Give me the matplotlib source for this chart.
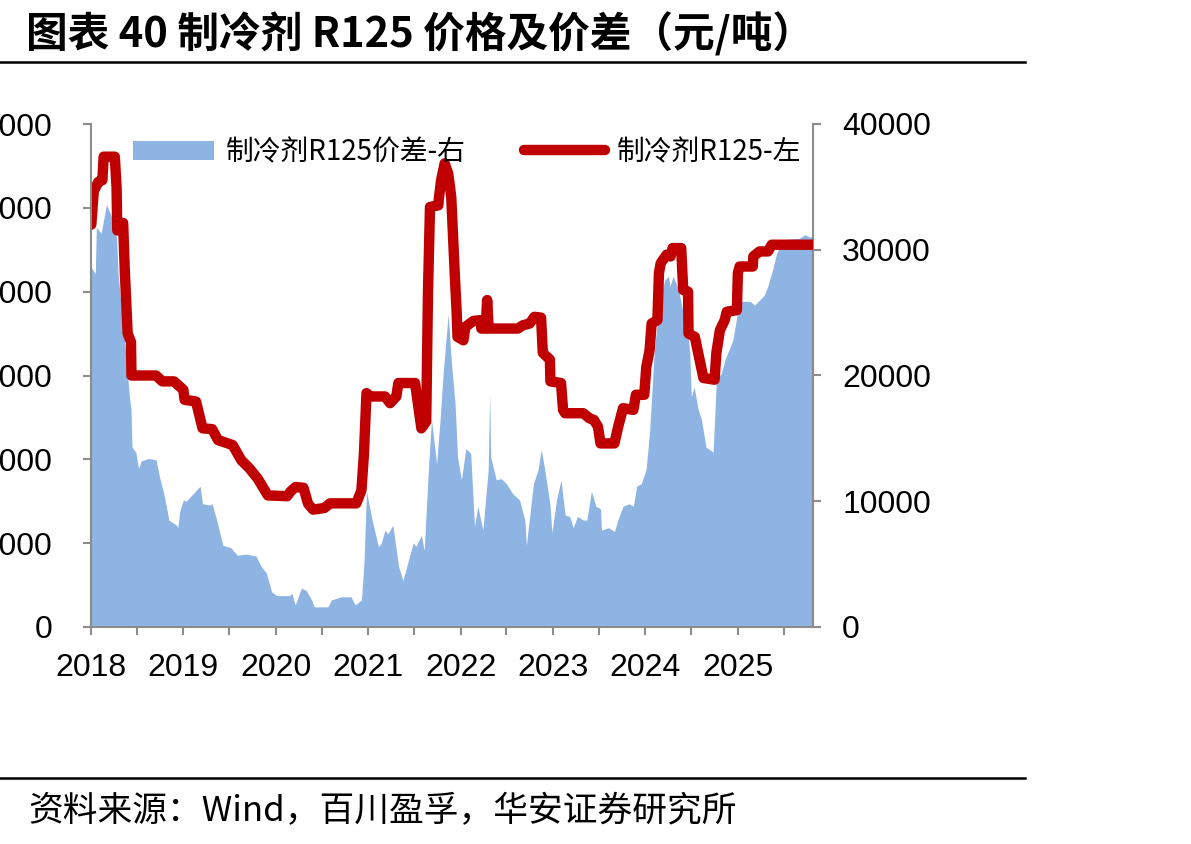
import matplotlib
matplotlib.use("Agg")
import matplotlib.pyplot as plt
import pandas as pd
from matplotlib.patches import Patch
from matplotlib.lines import Line2D

# ---------------- data ----------------
price_dates = ["2018-01-02", "2018-01-12", "2018-01-30", "2018-02-15", "2018-02-20", "2018-04-05",
               "2018-04-12", "2018-04-15", "2018-05-08", "2018-05-15", "2018-05-26", "2018-06-08",
               "2018-06-10", "2018-09-15", "2018-10-10", "2018-11-25", "2019-01-01", "2019-01-06",
               "2019-02-20", "2019-03-18", "2019-04-25", "2019-05-18", "2019-07-15", "2019-08-18",
               "2019-09-20", "2019-10-22", "2019-12-01", "2020-02-15", "2020-03-01", "2020-03-20",
               "2020-04-20", "2020-05-08", "2020-05-28", "2020-07-12", "2020-08-03", "2020-11-15",
               "2020-12-05", "2020-12-15", "2020-12-25", "2021-01-08", "2021-03-08", "2021-03-28",
               "2021-04-22", "2021-04-30", "2021-07-05", "2021-07-16", "2021-07-30", "2021-08-18",
               "2021-08-25", "2021-09-02", "2021-10-05", "2021-10-07", "2021-10-16", "2021-10-30",
               "2021-11-13", "2021-11-25", "2021-12-10", "2021-12-16", "2021-12-20", "2022-01-12",
               "2022-01-20", "2022-02-20", "2022-03-20", "2022-03-24", "2022-04-10", "2022-04-16",
               "2022-04-22", "2022-08-15", "2022-09-05", "2022-10-01", "2022-10-20", "2022-11-15",
               "2022-11-22", "2022-12-20", "2022-12-22", "2023-02-02", "2023-02-10", "2023-02-18",
               "2023-05-01", "2023-05-25", "2023-06-12", "2023-06-28", "2023-07-08", "2023-09-01",
               "2023-09-16", "2023-10-05", "2023-11-15", "2023-11-25", "2023-12-28", "2024-01-05",
               "2024-01-18", "2024-01-26", "2024-02-18", "2024-02-24", "2024-03-02", "2024-03-25",
               "2024-04-10", "2024-04-18", "2024-05-22", "2024-05-30", "2024-06-18", "2024-06-20",
               "2024-07-15", "2024-07-28", "2024-08-18", "2024-10-01", "2024-10-08", "2024-10-22",
               "2024-11-10", "2024-11-18", "2024-12-28", "2025-01-01", "2025-01-08", "2025-03-01",
               "2025-03-03", "2025-03-28", "2025-04-30", "2025-05-15", "2025-10-25"]
price_values = [48000, 52000, 53100, 53300, 56100, 56100,
                52500, 47300, 48200, 42200, 35000, 34000,
                30000, 30000, 29300, 29300, 28300, 27100,
                26900, 23700, 23600, 22300, 21700, 19900,
                18900, 17700, 15700, 15600, 16200, 16700,
                16600, 14700, 14000, 14200, 14750, 14750,
                16300, 20700, 27900, 27500, 27500, 26700,
                27500, 29100, 29100, 26700, 23700, 24500,
                39800, 50100, 50300, 51100, 53300, 55300,
                54100, 51300, 41400, 37800, 34600, 34200,
                35800, 36500, 36600, 35600, 35600, 39000,
                35600, 35600, 36000, 36200, 37000, 36900,
                32700, 31900, 29300, 29100, 25900, 25500,
                25500, 24900, 24700, 23900, 21900, 21900,
                23900, 26100, 25900, 27700, 27700, 31000,
                33000, 36200, 36600, 42200, 43400, 44400,
                44200, 45200, 45200, 40200, 40000, 35000,
                34600, 32700, 29700, 29500, 32700, 35400,
                36600, 37600, 37800, 42200, 43000, 43000,
                44200, 44800, 44800, 45600, 45600]

spread_dates = ["2018-01-02", "2018-01-18", "2018-01-22", "2018-02-10", "2018-03-03", "2018-03-20",
                "2018-04-12", "2018-04-18", "2018-04-30", "2018-05-18", "2018-06-02", "2018-06-08",
                "2018-06-12", "2018-06-27", "2018-07-08", "2018-07-18", "2018-08-15", "2018-09-15",
                "2018-09-28", "2018-10-18", "2018-11-05", "2018-12-05", "2018-12-10", "2018-12-18",
                "2019-01-01", "2019-01-12", "2019-02-18", "2019-03-08", "2019-03-18", "2019-04-15",
                "2019-04-25", "2019-05-18", "2019-06-06", "2019-07-08", "2019-08-03", "2019-09-05",
                "2019-10-15", "2019-11-05", "2019-11-25", "2019-12-16", "2020-01-05", "2020-02-25",
                "2020-03-05", "2020-03-18", "2020-04-12", "2020-05-01", "2020-05-22", "2020-06-02",
                "2020-07-25", "2020-08-08", "2020-09-15", "2020-10-25", "2020-11-10", "2020-12-05",
                "2020-12-15", "2020-12-25", "2021-01-15", "2021-02-10", "2021-02-20", "2021-03-08",
                "2021-03-20", "2021-04-08", "2021-05-01", "2021-05-18", "2021-06-06", "2021-06-28",
                "2021-07-08", "2021-07-30", "2021-08-10", "2021-08-28", "2021-09-08", "2021-09-28",
                "2021-10-12", "2021-10-24", "2021-11-13", "2021-11-25", "2021-12-10", "2021-12-20",
                "2022-01-04", "2022-01-22", "2022-02-10", "2022-02-25", "2022-03-10", "2022-03-30",
                "2022-04-20", "2022-04-26", "2022-04-30", "2022-05-22", "2022-06-10", "2022-07-01",
                "2022-07-26", "2022-08-22", "2022-09-12", "2022-09-18", "2022-10-01", "2022-10-16",
                "2022-11-03", "2022-11-16", "2022-11-28", "2022-12-20", "2022-12-28", "2023-01-15",
                "2023-02-02", "2023-02-18", "2023-03-08", "2023-03-22", "2023-04-08", "2023-05-01",
                "2023-05-15", "2023-06-02", "2023-06-20", "2023-07-08", "2023-07-12", "2023-08-08",
                "2023-09-01", "2023-09-16", "2023-10-05", "2023-10-28", "2023-11-15", "2023-11-28",
                "2023-12-16", "2024-01-04", "2024-01-18", "2024-02-05", "2024-02-24", "2024-03-18",
                "2024-04-01", "2024-04-08", "2024-04-20", "2024-05-12", "2024-05-30", "2024-06-18",
                "2024-06-25", "2024-07-01", "2024-07-12", "2024-07-28", "2024-08-10", "2024-08-28",
                "2024-09-12", "2024-09-25", "2024-10-01", "2024-10-08", "2024-10-28", "2024-11-10",
                "2024-11-22", "2024-12-12", "2024-12-28", "2025-01-08", "2025-02-18", "2025-03-08",
                "2025-03-28", "2025-04-16", "2025-05-01", "2025-05-18", "2025-06-03", "2025-06-28",
                "2025-08-30", "2025-09-24", "2025-10-12", "2025-10-24"]
spread_values = [28600, 28100, 31800, 31300, 33600, 32800,
                 31000, 28100, 25500, 21800, 18300, 17300,
                 14300, 13900, 12600, 13200, 13400, 13300,
                 12000, 10400, 8500, 8100, 7900, 9200,
                 10100, 10000, 10800, 11200, 9800, 9700,
                 9800, 8100, 6500, 6300, 5700, 5800,
                 5650, 4800, 4300, 2800, 2500, 2500,
                 2700, 1750, 3100, 2900, 2150, 1600,
                 1600, 2150, 2400, 2400, 1750, 2150,
                 5100, 10800, 8600, 6400, 6600, 7700,
                 7400, 8100, 4800, 3700, 5100, 6700,
                 6400, 7300, 6100, 13000, 16500, 13000,
                 16500, 20200, 24900, 21200, 17800, 13500,
                 11700, 14200, 13800, 8000, 9600, 7700,
                 12500, 18600, 13500, 11700, 11800, 11400,
                 10600, 10100, 8500, 6500, 8800, 11400,
                 12500, 14100, 12700, 9800, 7500, 10100,
                 11700, 8900, 8800, 7900, 8800, 8500,
                 8500, 10800, 9600, 9400, 7700, 7900,
                 7600, 8600, 9600, 9800, 9600, 11200,
                 11400, 12500, 15500, 21800, 25500, 27600,
                 27900, 27100, 27900, 26800, 24900, 23100,
                 21800, 18300, 19100, 17300, 16500, 14300,
                 14100, 13900, 16500, 19600, 20200, 21200,
                 21800, 22800, 24700, 25900, 25900, 25600,
                 26000, 26400, 27200, 28400, 29700, 30800,
                 30900, 31200, 31000, 31100]

year_labels = ["2018", "2019", "2020", "2021", "2022", "2023", "2024", "2025"]
left_ticks = [0, 10000, 20000, 30000, 40000, 50000, 60000]
right_ticks = [0, 10000, 20000, 30000, 40000]

title_text = "图表 40 制冷剂 R125 价格及价差（元/吨）"
source_text = "资料来源：Wind，百川盈孚，华安证券研究所"
label_spread = "制冷剂R125价差-右"
label_price = "制冷剂R125-左"

# ---------------- style ----------------
RED = "#C00000"
BLUE = "#8EB4E3"
GREY = "#8C8C8C"
CJK = ["Noto Sans CJK SC", "DejaVu Sans"]
NUM = ["Liberation Sans", "DejaVu Sans"]

plt.rcParams["font.family"] = CJK

fig = plt.figure(figsize=(11.91, 8.44), dpi=100)
ax = fig.add_axes([91 / 1191, 1 - 627 / 844, (813 - 91) / 1191, (627 - 124) / 844])
ax2 = ax.twinx()

pd_price = pd.to_datetime(price_dates)
pd_spread = pd.to_datetime(spread_dates)

ax2.fill_between(pd_spread, 0, spread_values, color=BLUE, linewidth=0)
ax.plot(pd_price, price_values, color=RED, linewidth=7.5, solid_capstyle="round",
        solid_joinstyle="round")

ax.set_zorder(ax2.get_zorder() + 1)
ax.patch.set_visible(False)

ax.set_xlim(pd.Timestamp("2018-01-01"), pd.Timestamp("2025-10-25"))
ax.set_ylim(0, 60000)
ax2.set_ylim(0, 40000)
ax.set_yticks(left_ticks)
ax.set_yticklabels([str(v) for v in left_ticks])
ax2.set_yticks(right_ticks)
ax2.set_yticklabels([str(v) for v in right_ticks])

major = [pd.Timestamp(f"{y}-01-01") for y in year_labels]
minor = [pd.Timestamp(f"{y}-07-01") for y in year_labels]
ax.set_xticks(major)
ax.set_xticklabels(year_labels)
ax.set_xticks(minor, minor=True)

for a in (ax, ax2):
    a.spines["top"].set_visible(False)
    for s in ("left", "right", "bottom"):
        a.spines[s].set_color(GREY)
        a.spines[s].set_linewidth(1.5)
ax.spines["right"].set_visible(False)
ax2.spines["left"].set_visible(False)
ax2.spines["bottom"].set_visible(False)

ax.tick_params(axis="y", direction="out", length=6, width=1.5, color=GREY, pad=22,
               labelsize=23)
ax2.tick_params(axis="y", direction="out", length=6, width=1.5, color=GREY, pad=15,
                labelsize=23)
ax.tick_params(axis="x", which="both", direction="out", length=6, width=1.5, color=GREY,
               pad=13, labelsize=23)
for lab in ax.get_yticklabels() + ax2.get_yticklabels() + ax.get_xticklabels():
    lab.set_family(NUM)

handles = [Patch(facecolor=BLUE, edgecolor="none"),
           Line2D([0], [0], color=RED, linewidth=7.5, solid_capstyle="round")]
leg = ax.legend(handles, [label_spread, label_price], ncol=2, frameon=False,
                loc="center left", bbox_to_anchor=((133 - 91) / 722, (627 - 152) / 503),
                borderpad=0, borderaxespad=0, handlelength=2.9, handletextpad=0.45,
                columnspacing=2.1, prop={"family": CJK, "size": 20})

# title, rules, source
fig.text(26 / 1191, 1 - 34 / 844, title_text, fontsize=30, fontweight="bold",
         va="center", ha="left", family=CJK)
fig.add_artist(Line2D([0, 1025 / 1191], [1 - 62 / 844, 1 - 62 / 844], color="black",
                      linewidth=1.8))
fig.add_artist(Line2D([0, 1025 / 1191], [1 - 778 / 844, 1 - 778 / 844], color="black",
                      linewidth=1.8))
fig.text(28 / 1191, 1 - 812 / 844, source_text, fontsize=25, va="center", ha="left",
         family=CJK)

fig.savefig("out.png", dpi=100)
